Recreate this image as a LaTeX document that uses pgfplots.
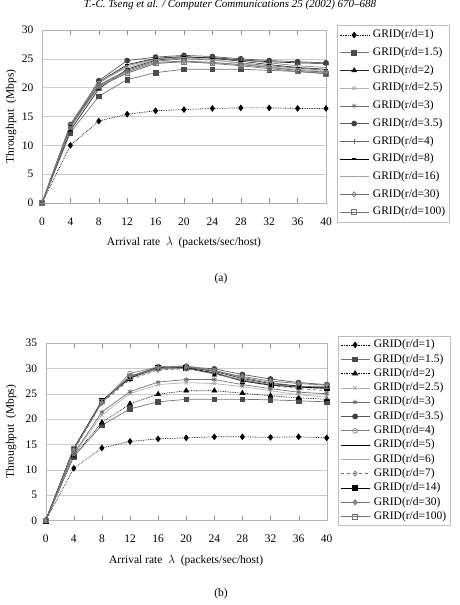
\documentclass[border=0pt]{standalone}
\usepackage{fontspec}
\setmainfont{Liberation Serif}
\usepackage{pgfplots}
\usepackage{pgfplotstable}
\pgfplotsset{compat=1.18}

% Throughput versus arrival rate, panel (a)
\pgfplotstableread{
x   r1    r15   r2    r25   r3    r35   r4    r8    r16   r30   r100
0   0     0     0     0     0     0     0     0     0     0     0
4   10.0  12.2  12.6  13.0  13.2  13.6  13.4  13.5  13.7  13.5  13.4
8   14.2  18.5  19.8  20.2  20.5  21.2  20.8  21.0  21.0  20.4  20.2
12  15.4  21.4  23.2  22.6  23.0  24.7  23.8  24.0  23.5  22.8  22.5
16  16.0  22.6  24.8  24.2  24.6  25.3  25.0  25.1  24.9  24.4  24.2
20  16.2  23.2  25.2  24.5  25.0  25.6  25.3  25.4  25.2  24.6  24.5
24  16.4  23.2  25.2  24.3  24.8  25.4  25.2  25.1  24.9  24.4  24.2
28  16.5  23.2  24.8  24.0  24.3  25.0  24.8  24.6  24.2  24.0  23.8
32  16.5  23.0  24.5  23.6  23.8  24.7  24.3  24.0  23.6  23.5  23.3
36  16.4  22.8  24.3  23.2  23.4  24.5  23.8  23.5  23.0  23.0  22.8
40  16.4  22.5  24.2  22.8  23.0  24.3  23.5  23.2  22.6  22.7  22.4
}\dataA

% Throughput versus arrival rate, panel (b)
\pgfplotstableread{
x   r1    r15   r2    r25   r3    r35   r4    r5    r6    r7    r14   r30   r100
0   0     0     0     0     0     0     0     0     0     0     0     0     0
4   10.3  12.6  12.8  13.0  13.2  14.2  14.0  14.1  14.0  13.8  14.2  14.0  14.1
8   14.3  18.8  19.3  20.8  21.4  23.5  23.4  23.5  23.4  23.2  23.6  23.3  23.5
12  15.6  22.0  23.0  25.0  25.4  28.4  29.0  28.2  28.0  27.8  28.1  28.5  28.3
16  16.1  23.4  24.9  26.8  27.3  30.3  30.3  30.0  29.8  29.7  30.2  30.1  30.0
20  16.3  23.9  25.6  27.2  27.8  30.3  30.5  30.2  30.0  29.9  30.1  30.3  30.0
24  16.5  23.9  25.6  27.0  27.8  29.9  29.6  29.4  29.2  29.0  29.1  29.5  28.9
28  16.5  23.9  25.1  26.4  26.8  28.8  28.2  28.0  27.8  27.6  27.5  28.4  27.7
32  16.4  23.8  24.6  25.6  26.0  27.9  27.2  27.0  26.8  26.6  26.7  27.5  26.8
36  16.5  23.6  24.2  24.8  25.3  27.2  26.5  26.5  26.3  26.0  26.3  27.0  26.4
40  16.3  23.4  23.9  24.3  25.0  26.8  26.0  26.2  25.9  25.6  26.1  26.7  26.5
}\dataB

\pgfplotsset{
  paper/.style={
    scale only axis,
    xmin=0, xmax=40, ymin=0,
    xtick={0,4,...,40},
    tick label style={font=\fontsize{11.5}{13}\selectfont},
    /pgf/number format/assume math mode=true,
    label style={font=\fontsize{11.5}{13}\selectfont},
    axis line style={black!30},
    ymajorgrids, grid style={black!20},
    ytick style={draw=none},
    xtick style={black!45},
    tick align=inside,
    major tick length=5pt,
    xticklabel style={yshift=-11pt},
    yticklabel style={xshift=-5pt},
    xlabel={Arrival rate\ \ $\lambda$\ \ (packets/sec/host)},
    ylabel={Throughput\ \ (Mbps)},
    xlabel style={at={(axis description cs:0.5,0)}, anchor=north, yshift=-31pt},
    legend cell align=left,
    legend style={draw=black!25, line width=0.6pt,
      font=\fontsize{11.5}{13}\selectfont,
      nodes={inner ysep=0pt, inner xsep=2pt, text height=8pt, text depth=2.5pt},
      inner xsep=2pt},
    legend image code/.code={%
      \draw[mark repeat=2,mark phase=2]
        plot coordinates {(0pt,0pt) (14.5pt,0pt) (29pt,0pt)};
      \path (31pt,0pt);},
    every axis plot/.append style={line width=0.7pt, mark size=2.3pt},
  },
  s1/.style={black, densely dotted, mark=diamond*, mark options={solid, fill=black}, mark size=2.8pt},
  s15/.style={black!55, mark=square*, mark options={fill=black!70, draw=black!70}, mark size=2.3pt},
  s2/.style={black!85, mark=triangle*, mark options={fill=black}, mark size=2.8pt},
  s2d/.style={black, densely dotted, mark=triangle*, mark options={solid, fill=black}, mark size=2.8pt},
  s25/.style={black!30, mark=x, mark options={black!35}, mark size=2.5pt},
  s3/.style={black!55, mark=asterisk, mark options={black!60}, mark size=2.5pt},
  s35/.style={black!65, mark=*, mark options={fill=black!75, draw=black!75}, mark size=2.5pt},
  s4a/.style={black!60, line width=0.5pt, mark=|, mark options={black!60}, mark size=2.5pt},
  s4b/.style={black!50, mark=o, mark options={fill=white, draw=black!50}, mark size=2.3pt},
  s8/.style={black, line width=0.5pt, mark=-, mark options={line width=1pt}, mark size=2pt},
  s16/.style={black!35, mark=-, mark options={black!40, line width=1pt}, mark size=2pt},
  s6/.style={black!30, mark=-, mark options={black!35, line width=1pt}, mark size=2pt},
  s7/.style={black!55, dashed, mark=diamond, mark options={solid, fill=white, draw=black!55}, mark size=2.6pt},
  s14/.style={black, mark=square*, mark options={fill=black}, mark size=2.4pt},
  s30a/.style={black!55, mark=diamond, mark options={fill=white, draw=black!55}, mark size=2.6pt},
  s30b/.style={black!55, mark=diamond*, mark options={fill=black!45, draw=black!55}, mark size=2.6pt},
  s100/.style={black!55, mark=square, mark options={fill=white, draw=black!55}, mark size=2.3pt},
}

\begin{document}
\begin{tikzpicture}
\path[use as bounding box] (0pt,0pt) rectangle (460pt,-605pt);

\node[anchor=base, font=\itshape\fontsize{11}{13}\selectfont] at (230pt,-7pt)
  {T.-C. Tseng et al. / Computer Communications 25 (2002) 670--688};

% ---------- (a) ----------
\begin{axis}[paper,
  at={(42pt,-203pt)}, anchor=south west,
  width=284pt, height=173pt,
  ymax=30, ytick={0,5,...,30},
  ylabel style={at={(axis description cs:-0.109,0.5)}, anchor=center},
  legend style={at={(axis description cs:1.0387,1.0289)}, anchor=north west,
    row sep=7.2pt, inner ysep=4.5pt},
]
\addplot[s1]   table[x=x,y=r1]   {\dataA};
\addplot[s15]  table[x=x,y=r15]  {\dataA};
\addplot[s2]   table[x=x,y=r2]   {\dataA};
\addplot[s25]  table[x=x,y=r25]  {\dataA};
\addplot[s3]   table[x=x,y=r3]   {\dataA};
\addplot[s35]  table[x=x,y=r35]  {\dataA};
\addplot[s4a]  table[x=x,y=r4]   {\dataA};
\addplot[s8]   table[x=x,y=r8]   {\dataA};
\addplot[s16]  table[x=x,y=r16]  {\dataA};
\addplot[s30a] table[x=x,y=r30]  {\dataA};
\addplot[s100] table[x=x,y=r100] {\dataA};
\legend{GRID(r/d=1),GRID(r/d=1.5),GRID(r/d=2),GRID(r/d=2.5),GRID(r/d=3),
  GRID(r/d=3.5),GRID(r/d=4),GRID(r/d=8),GRID(r/d=16),GRID(r/d=30),GRID(r/d=100)}
\end{axis}
\node[font=\fontsize{11.5}{13}\selectfont] at (221pt,-279pt) {(a)};

% ---------- (b) ----------
\begin{axis}[paper,
  at={(45.7pt,-520.5pt)}, anchor=south west,
  width=281pt, height=177.5pt,
  ymax=35, ytick={0,5,...,35},
  ylabel style={at={(axis description cs:-0.123,0.5)}, anchor=center},
  legend style={at={(axis description cs:1.04,1.04)}, anchor=north west,
    row sep=3.8pt, inner ysep=3.5pt},
]
\addplot[s1]   table[x=x,y=r1]   {\dataB};
\addplot[s15]  table[x=x,y=r15]  {\dataB};
\addplot[s2d]  table[x=x,y=r2]   {\dataB};
\addplot[s25]  table[x=x,y=r25]  {\dataB};
\addplot[s3]   table[x=x,y=r3]   {\dataB};
\addplot[s35]  table[x=x,y=r35]  {\dataB};
\addplot[s4b]  table[x=x,y=r4]   {\dataB};
\addplot[s8]   table[x=x,y=r5]   {\dataB};
\addplot[s6]   table[x=x,y=r6]   {\dataB};
\addplot[s7]   table[x=x,y=r7]   {\dataB};
\addplot[s14]  table[x=x,y=r14]  {\dataB};
\addplot[s30b] table[x=x,y=r30]  {\dataB};
\addplot[s100] table[x=x,y=r100] {\dataB};
\legend{GRID(r/d=1),GRID(r/d=1.5),GRID(r/d=2),GRID(r/d=2.5),GRID(r/d=3),
  GRID(r/d=3.5),GRID(r/d=4),GRID(r/d=5),GRID(r/d=6),GRID(r/d=7),
  GRID(r/d=14),GRID(r/d=30),GRID(r/d=100)}
\end{axis}
\node[font=\fontsize{11.5}{13}\selectfont] at (221pt,-594pt) {(b)};
\end{tikzpicture}
\end{document}
